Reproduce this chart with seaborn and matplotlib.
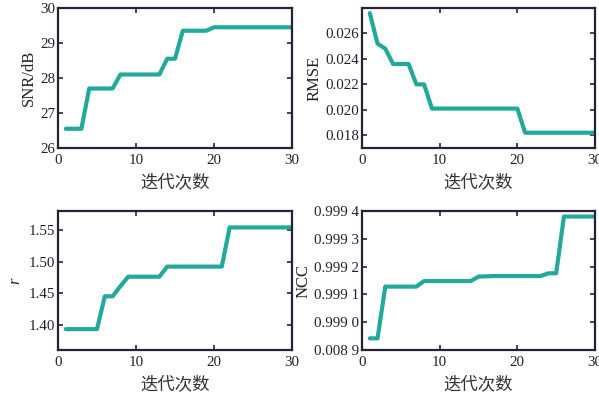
import numpy as np
import pandas as pd
import seaborn as sns
import matplotlib
matplotlib.use("Agg")
import matplotlib.pyplot as plt

iters = list(range(1, 31))
snr = [26.55, 26.55, 26.55, 27.7, 27.7, 27.7, 27.7, 28.1, 28.1, 28.1,
       28.1, 28.1, 28.1, 28.55, 28.55, 29.35, 29.35, 29.35, 29.35, 29.45,
       29.45, 29.45, 29.45, 29.45, 29.45, 29.45, 29.45, 29.45, 29.45, 29.45]
rmse = [0.0276, 0.0252, 0.0248, 0.0236, 0.0236, 0.0236, 0.0220, 0.0220, 0.0201, 0.0201,
        0.0201, 0.0201, 0.0201, 0.0201, 0.0201, 0.0201, 0.0201, 0.0201, 0.0201, 0.0201,
        0.0182, 0.0182, 0.0182, 0.0182, 0.0182, 0.0182, 0.0182, 0.0182, 0.0182, 0.0182]
r_vals = [1.393, 1.393, 1.393, 1.393, 1.393, 1.445, 1.445, 1.461, 1.476, 1.476,
          1.476, 1.476, 1.476, 1.492, 1.492, 1.492, 1.492, 1.492, 1.492, 1.492,
          1.492, 1.554, 1.554, 1.554, 1.554, 1.554, 1.554, 1.554, 1.554, 1.554]
ncc = [0.998942, 0.998942, 0.999128, 0.999128, 0.999128, 0.999128, 0.999128, 0.999148, 0.999148, 0.999148,
       0.999148, 0.999148, 0.999148, 0.999148, 0.999164, 0.999165, 0.999166, 0.999166, 0.999166, 0.999166,
       0.999166, 0.999166, 0.999166, 0.999176, 0.999176, 0.999380, 0.999380, 0.999380, 0.999380, 0.999380]

x_ticks = [0, 10, 20, 30]
snr_ticks = [26, 27, 28, 29, 30]
snr_labels = ["26", "27", "28", "29", "30"]
rmse_ticks = [0.018, 0.020, 0.022, 0.024, 0.026]
rmse_labels = ["0.018", "0.020", "0.022", "0.024", "0.026"]
r_ticks = [1.40, 1.45, 1.50, 1.55]
r_labels = ["1.40", "1.45", "1.50", "1.55"]
ncc_ticks = [0.9989, 0.9990, 0.9991, 0.9992, 0.9993, 0.9994]
ncc_labels = ["0.008 9", "0.999 0", "0.999 1", "0.999 2", "0.999 3", "0.999 4"]
xlabel = "迭代次数"

sns.set_theme(style="white")
plt.rcParams['font.family'] = ['Liberation Serif', 'Noto Sans CJK SC']

line_color = "#22a99a"
frame_color = "#2b2035"

fig = plt.figure(figsize=(5.99, 3.95), dpi=100)
positions = [
    [58/599, 1-148/395, 234/599, 140/395],
    [362/599, 1-148/395, 233/599, 140/395],
    [58/599, 1-350/395, 234/599, 139/395],
    [362/599, 1-350/395, 233/599, 139/395],
]
panels = [
    (snr, "SNR/dB", (26, 30), snr_ticks, snr_labels),
    (rmse, "RMSE", (0.017, 0.028), rmse_ticks, rmse_labels),
    (r_vals, "r", (1.36, 1.58), r_ticks, r_labels),
    (ncc, "NCC", (0.9989, 0.9994), ncc_ticks, ncc_labels),
]

for pos, (vals, ylab, ylim, yt, ytl) in zip(positions, panels):
    ax = fig.add_axes(pos)
    df = pd.DataFrame({"iter": iters, "val": vals})
    sns.lineplot(data=df, x="iter", y="val", ax=ax, color=line_color, linewidth=3.0)
    ax.set_xlim(0, 30)
    ax.set_ylim(*ylim)
    ax.set_xticks(x_ticks)
    ax.set_xticklabels([str(t) for t in x_ticks])
    ax.set_yticks(yt)
    ax.set_yticklabels(ytl)
    ax.tick_params(direction="in", length=3.5, width=1.2, colors=frame_color,
                   labelsize=10.8, labelcolor="#222222", top=True, right=True,
                   bottom=True, left=True)
    ax.tick_params(axis="x", pad=4)
    ax.tick_params(axis="y", pad=2)
    for s in ax.spines.values():
        s.set_color(frame_color)
        s.set_linewidth(1.6)
    ax.set_xlabel(xlabel, fontsize=12.5, family=['Noto Sans CJK SC'], color="#333333", labelpad=5)
    if ylab == "r":
        ax.set_ylabel(ylab, fontsize=12, style="italic", color="#222222", labelpad=4)
    else:
        ax.set_ylabel(ylab, fontsize=12, color="#222222", labelpad=2)

fig.savefig("out.png", dpi=100)
